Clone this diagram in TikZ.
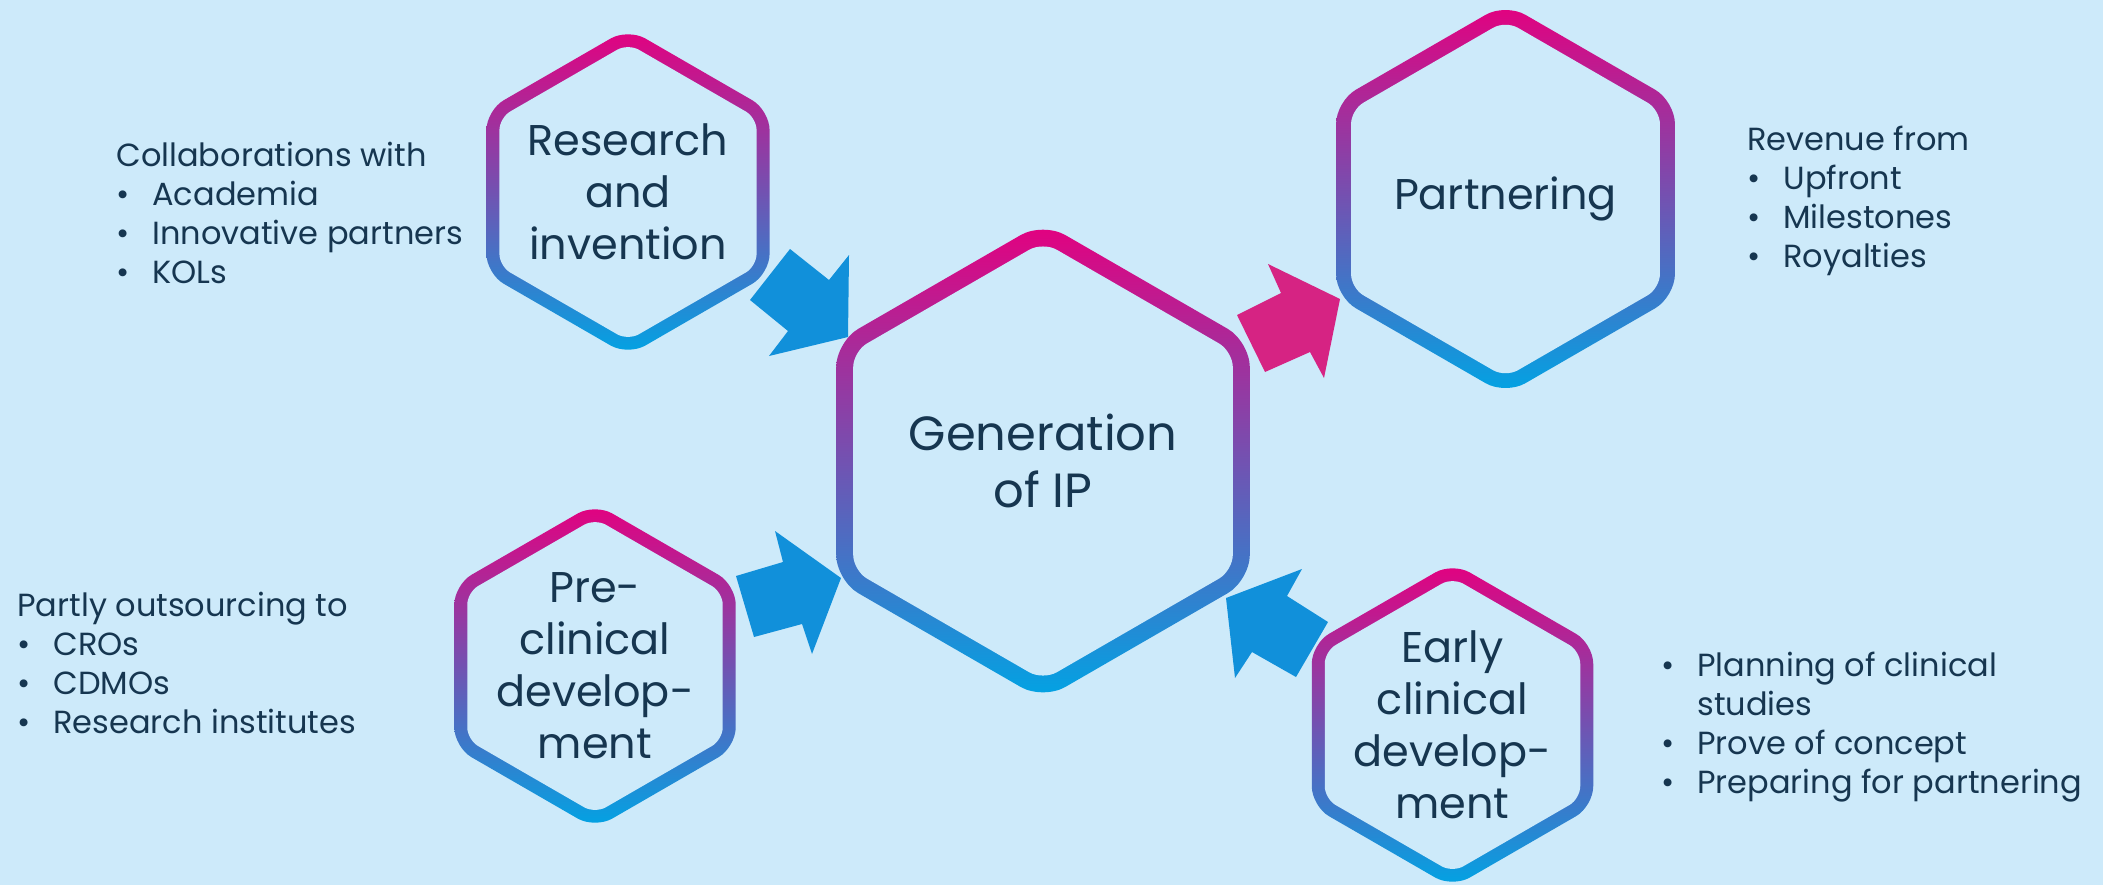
\documentclass[tikz,border=0pt]{standalone}
\usepackage{fontspec}
\setmainfont{Poppins}
\definecolor{bgc}{RGB}{205,234,250}
\definecolor{hexTop}{RGB}{228,0,127}
\definecolor{hexMid}{RGB}{128,64,168}
\definecolor{hexBot}{RGB}{0,164,228}
\definecolor{arrBlue}{RGB}{17,144,218}
\definecolor{arrPink}{RGB}{214,35,131}
\definecolor{txt}{RGB}{22,54,80}
\newcommand\bul{\makebox[18pt][l]{•}}
\newcommand\hexring[5]{%
  \pgfmathsetmacro\hexRo{#3+0.57735*#4}%
  \pgfmathsetmacro\hexRi{#3-0.57735*#4}%
  \pgfmathsetmacro\hexTo{0.5*0.57735*(#5+#4/2)}%
  \pgfmathsetmacro\hexTi{0.5*0.57735*(#5-#4/2)}%
  \begin{scope}[shift={(#1,#2)}]
    \shade[top color=hexTop, middle color=hexMid, bottom color=hexBot, rounded corners=\hexTo pt]
      (90:\hexRo) -- (150:\hexRo) -- (210:\hexRo) -- (270:\hexRo) -- (330:\hexRo) -- (30:\hexRo) -- cycle;
    \fill[bgc, rounded corners=\hexTi pt]
      (90:\hexRi) -- (150:\hexRi) -- (210:\hexRi) -- (270:\hexRi) -- (330:\hexRi) -- (30:\hexRi) -- cycle;
  \end{scope}}
\tikzset{
  hextext/.style={align=center, text=txt, inner sep=0pt},
  smallhex/.style={hextext, font=\fontsize{21.5}{26}\selectfont},
  sidetext/.style={align=left, text=txt, inner sep=0pt, anchor=base west, font=\fontsize{16}{19.4}\selectfont},
  blockarrow/.style={draw=none}
}
\begin{document}
\begin{tikzpicture}[x=0.5pt, y=-0.5pt]
\useasboundingbox (0,0) rectangle (2103,885);
\fill[bgc] (0,0) rectangle (2103,885);

% hexagon rings
\hexring{628}{192}{156}{13}{28}
\hexring{1043}{461}{229}{17}{36}
\hexring{1505.5}{199}{187}{15}{32}
\hexring{595}{666}{155}{13}{28}
\hexring{1452.5}{725}{155}{13}{28}

% block arrows
\fill[arrBlue, blockarrow] (790,249) -- (829,280) -- (849,255) -- (848,337) -- (769,356) -- (788,331) -- (750,300) -- cycle;
\fill[arrPink, blockarrow] (1237,315) -- (1281,293) -- (1268,264) -- (1340,299) -- (1324,378) -- (1310,352) -- (1265,372) -- cycle;
\fill[arrBlue, blockarrow] (736,576) -- (783,562) -- (775,531) -- (841,578) -- (812,654) -- (802,624) -- (754,637) -- cycle;
\fill[arrBlue, blockarrow] (1226,598) -- (1302,569) -- (1287,596) -- (1328,622) -- (1296,677) -- (1252,652) -- (1235,678) -- cycle;

% hexagon texts
\node[smallhex] (rnd) at (628,192) {Research\\and\\invention};
\node[hextext, font=\fontsize{24}{28.5}\selectfont] (gen) at (1043,461) {Generation\\of IP};
\node[hextext, font=\fontsize{21.5}{26}\selectfont] (part) at (1505.5,199) {Partnering};
\node[smallhex] (pre) at (595,666) {Pre-\\clinical\\develop-\\ment};
\node[smallhex] (early) at (1452.5,725) {Early\\clinical\\develop-\\ment};

% side texts (anchored at the baseline of their last line)
\node[sidetext] (collab) at (116,283) {Collaborations with\\\bul Academia\\\bul Innovative partners\\\bul KOLs};
\node[sidetext] (outs) at (17,733) {Partly outsourcing to\\\bul CROs\\\bul CDMOs\\\bul Research institutes};
\node[sidetext] (rev) at (1747,267) {Revenue from\\\bul Upfront\\\bul Milestones\\\bul Royalties};
\node[sidetext] (plan) at (1661,793) {\bul Planning of clinical\\\makebox[18pt]{}studies\\\bul Prove of concept\\\bul Preparing for partnering};
\end{tikzpicture}
\end{document}
